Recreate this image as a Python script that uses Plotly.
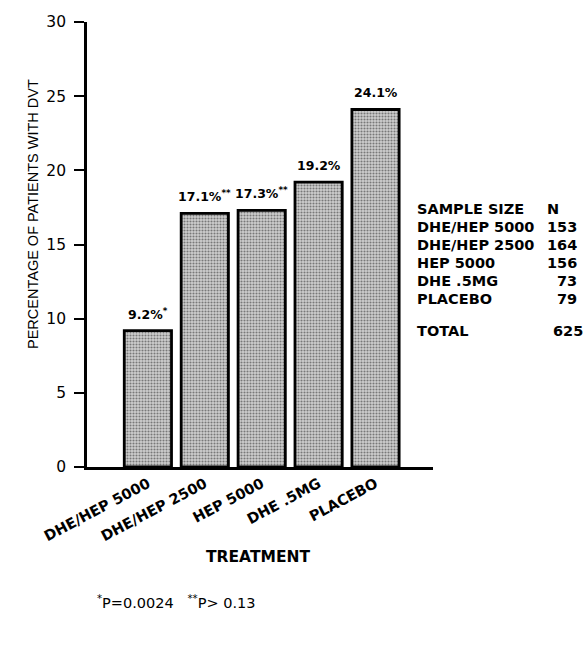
import plotly.graph_objects as go

# ---- data ----
treatments = ["DHE/HEP 5000", "DHE/HEP 2500", "HEP 5000", "DHE .5MG", "PLACEBO"]
dvt_pct = [9.2, 17.1, 17.3, 19.2, 24.1]
significance = ["*", "**", "**", "", ""]
sample_sizes = [153, 164, 156, 73, 79]
total_n = 625
y_ticks = [0, 5, 10, 15, 20, 25, 30]
footnote_marks = ["*", "**"]
footnote_p = ["P=0.0024", "P> 0.13"]

# ---- layout geometry (pixels) ----
W, H = 587, 646
L, R, T, B = 87, 433, 22, 467


def px(x):
    return (x - L) / (R - L)


def py(y):
    return (B - y) / (B - T)


BOLD = dict(family="DejaVu Sans", size=14.5, color="black", weight="bold")
REG = dict(family="DejaVu Sans", size=15.5, color="black")

fig = go.Figure()
fig.add_trace(go.Bar(
    x=treatments,
    y=dvt_pct,
    width=0.83,
    marker=dict(
        color="white",
        line=dict(color="black", width=2.8),
        pattern=dict(shape=".", fgcolor="#222222", bgcolor="#cfcfcf", size=3, solidity=0.4),
    ),
    showlegend=False,
    hoverinfo="skip",
))

annotations = []
# value labels
for t, v, s in zip(treatments, dvt_pct, significance):
    txt = f"{v}%" + (f"<sup>{s}</sup>" if s else "")
    annotations.append(dict(
        x=t, y=v, xref="x", yref="y", text=txt, showarrow=False,
        yanchor="middle", xanchor="center", yshift=17,
        font=dict(family="DejaVu Sans", size=12.5, color="black", weight="bold"),
    ))

# sample size table
row_y = 209
row_step = 18
annotations.append(dict(x=px(415), y=py(row_y), xref="paper", yref="paper", text="SAMPLE SIZE",
                        showarrow=False, xanchor="left", yanchor="middle", font=BOLD))
annotations.append(dict(x=px(553), y=py(row_y), xref="paper", yref="paper", text="N",
                        showarrow=False, xanchor="center", yanchor="middle", font=BOLD))
for i, (t, n) in enumerate(zip(treatments, sample_sizes)):
    yy = row_y + row_step * (i + 1)
    annotations.append(dict(x=px(415), y=py(yy), xref="paper", yref="paper", text=t,
                            showarrow=False, xanchor="left", yanchor="middle", font=BOLD))
    annotations.append(dict(x=px(579), y=py(yy), xref="paper", yref="paper", text=str(n),
                            showarrow=False, xanchor="right", yanchor="middle", font=BOLD))
annotations.append(dict(x=px(415), y=py(331), xref="paper", yref="paper", text="TOTAL",
                        showarrow=False, xanchor="left", yanchor="middle", font=BOLD))
annotations.append(dict(x=px(585), y=py(331), xref="paper", yref="paper", text=str(total_n),
                        showarrow=False, xanchor="right", yanchor="middle", font=BOLD))

# axis titles
annotations.append(dict(x=px(33), y=py(214), xref="paper", yref="paper",
                        text="PERCENTAGE OF PATIENTS WITH DVT", textangle=-90,
                        showarrow=False, xanchor="center", yanchor="middle",
                        font=dict(family="Liberation Sans", size=14.5, color="black")))
annotations.append(dict(x=px(258), y=py(557), xref="paper", yref="paper", text="TREATMENT",
                        showarrow=False, xanchor="center", yanchor="middle",
                        font=dict(family="DejaVu Sans", size=15.5, color="black", weight="bold")))

# footnote
foot = "   ".join(f"<sup>{m}</sup>{p}" for m, p in zip(footnote_marks, footnote_p))
annotations.append(dict(x=px(95), y=py(602), xref="paper", yref="paper", text=foot,
                        showarrow=False, xanchor="left", yanchor="middle",
                        font=dict(family="DejaVu Sans", size=14.5, color="black")))

fig.update_layout(
    width=W, height=H,
    margin=dict(l=L, r=W - R, t=T, b=H - B, pad=0),
    paper_bgcolor="white", plot_bgcolor="white",
    annotations=annotations,
)
fig.update_xaxes(
    range=[-1.07, 5.01],
    showline=True, linecolor="black", linewidth=2.8,
    ticks="", showgrid=False, zeroline=False,
    tickangle=-28, tickfont=BOLD,
)
fig.update_yaxes(
    range=[0, 30], tickvals=y_ticks, ticktext=[str(v) for v in y_ticks],
    showline=True, linecolor="black", linewidth=2.8,
    ticks="outside", ticklen=10, tickwidth=1.5, tickcolor="black",
    ticklabelstandoff=5,
    showgrid=False, zeroline=False, tickfont=REG,
)

fig.write_html("out.html", config={"displayModeBar": False},
               post_script="document.body.style.margin='0px';")
